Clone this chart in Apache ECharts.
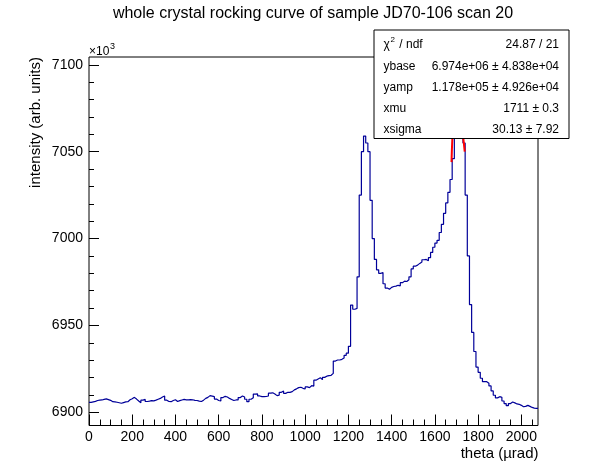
<!DOCTYPE html>
<html>
<head>
<meta charset="utf-8">
<script src="https://cdn.jsdelivr.net/npm/echarts@6/dist/echarts.min.js"></script>
<style>
html,body{margin:0;padding:0;background:#fff;}
#chart{width:598px;height:474px;}
</style>
</head>
<body>
<div id="chart"></div>
<script>
// ---- data ----
const binStart = 0;       // µrad, left edge of first bin
const binWidth = 10;      // µrad
const xMax = 2077;        // right edge of axis
const intensity = [
  6905.7, 6906.0, 6906.3, 6906.8, 6907.0, 6907.1, 6907.4, 6907.7, 6907.3, 6906.9,
  6906.1, 6906.0, 6905.8, 6905.5, 6905.2, 6905.6, 6906.0, 6906.1, 6907.2, 6907.8,
  6908.6, 6907.6, 6906.5, 6905.5, 6907.0, 6907.4, 6906.2, 6906.4, 6906.7, 6906.6,
  6907.0, 6907.5, 6908.0, 6908.8, 6909.4, 6907.0, 6906.2, 6906.1, 6906.8, 6907.2,
  6906.2, 6906.7, 6907.1, 6907.4, 6907.2, 6907.1, 6907.3, 6907.2, 6906.9, 6906.8,
  6906.4, 6906.2, 6907.0, 6908.0, 6908.6, 6909.6, 6909.3, 6909.0, 6907.6, 6906.8,
  6906.5, 6908.5, 6909.2, 6908.8, 6908.0, 6907.4, 6906.8, 6907.1, 6907.1, 6908.5,
  6909.4, 6908.8, 6907.5, 6906.1, 6907.5, 6908.4, 6910.5, 6910.6, 6909.4, 6909.0,
  6909.0, 6909.1, 6909.4, 6911.0, 6911.2, 6910.5, 6909.6, 6909.9, 6911.5, 6912.2,
  6910.9, 6911.5, 6911.5, 6911.9, 6912.9, 6913.5, 6914.2, 6914.4, 6913.8, 6913.4,
  6914.6, 6914.2, 6915.3, 6915.1, 6918.5, 6919.2, 6919.9, 6918.8, 6920.1, 6920.8,
  6921.1, 6921.3, 6922.4, 6929.5, 6930.1, 6930.1, 6930.5, 6931.2, 6932.8, 6934.0,
  6938.0, 6961.7, 6959.3, 6959.8, 6978.0, 7025.0, 7050.0, 7059.0, 7055.0, 7050.0,
  7022.0, 7000.0, 6988.0, 6982.0, 6980.0, 6980.5, 6974.0, 6971.5, 6970.8, 6971.9,
  6972.4, 6972.6, 6973.1, 6972.8, 6974.6, 6975.5, 6975.3, 6976.3, 6978.0, 6982.5,
  6984.1, 6984.7, 6985.7, 6986.5, 6987.8, 6988.0, 6987.2, 6989.0, 6992.0, 6995.0,
  6997.4, 6999.0, 7003.5, 7008.2, 7014.5, 7020.5, 7026.6, 7034.0, 7046.0, 7065.0,
  7080.0, 7090.0, 7085.0, 7055.0, 7025.0, 6990.0, 6962.0, 6946.0, 6935.0, 6926.0,
  6923.0, 6919.6, 6917.6, 6917.6, 6916.7, 6915.2, 6912.3, 6909.8, 6908.3, 6909.0,
  6908.6, 6906.5, 6905.0, 6903.8, 6905.0, 6905.9, 6905.4, 6904.8, 6904.6, 6904.0,
  6903.2, 6903.4, 6904.0, 6903.4, 6902.8, 6902.4, 6902.3, 6902.3
];
// red fit curve (mostly hidden under the stats box)
const fitTheta = [1677, 1681, 1690, 1700, 1711, 1720, 1728, 1733, 1738];
const fitValue = [7044, 7058, 7078, 7089, 7092, 7088, 7062, 7056, 7050];

const xTicks = [0, 200, 400, 600, 800, 1000, 1200, 1400, 1600, 1800, 2000];
const xMinorTicks = [50,100,150,250,300,350,450,500,550,650,700,750,850,900,950,1050,1100,1150,1250,1300,1350,1450,1500,1550,1650,1700,1750,1850,1900,1950,2050];
const yTicks = [6900, 6950, 7000, 7050, 7100];
const yMinorTicks = [6910,6920,6930,6940,6960,6970,6980,6990,7010,7020,7030,7040,7060,7070,7080,7090];
const yMin = 6892.4, yMax = 7104.5;

const titleText = 'whole crystal rocking curve of sample JD70-106 scan 20';
const xTitle = 'theta (\u00b5rad)';
const yTitle = 'intensity (arb. units)';
const statNames = ['ybase', 'yamp', 'xmu', 'xsigma'];
const statValues = ['24.87 / 21', '6.974e+06 \u00b1 4.838e+04', '1.178e+05 \u00b1 4.926e+04', '1711 \u00b1 0.3', '30.13 \u00b1 7.92'];

// ---- build ----
const FONT = "'Liberation Sans', Arial, Helvetica, sans-serif";
const histData = intensity.map((v, i) => [binStart + i * binWidth, v]);
histData.push([xMax, intensity[intensity.length - 1]]);
const fitData = fitTheta.map((t, i) => [t, fitValue[i]]);
const plain = v => String(Math.round(v));

const chart = echarts.init(document.getElementById('chart'), null, {renderer: 'canvas'});

const axisCommonX = {
  type: 'value', min: 0, max: xMax, position: 'bottom',
  axisLine: {show: false}, splitLine: {show: false}
};
const axisCommonY = {
  type: 'value', min: yMin, max: yMax, position: 'left',
  axisLine: {show: false}, splitLine: {show: false}
};

const statGraphics = [];
const rowY = [45, 66.5, 87.5, 108.5, 130];
statGraphics.push({type: 'rect', shape: {x: 374, y: 30, width: 195, height: 108.5},
  style: {fill: '#fff', stroke: '#000', lineWidth: 1}, z: 100});
statGraphics.push({type: 'text', x: 383.5, y: rowY[0], z: 101,
  style: {text: '\u03c7', font: '12px ' + FONT, fill: '#000', textVerticalAlign: 'middle'}});
statGraphics.push({type: 'text', x: 390.5, y: 39.5, z: 101,
  style: {text: '2', font: '8px ' + FONT, fill: '#000', textVerticalAlign: 'middle'}});
statGraphics.push({type: 'text', x: 396, y: rowY[0], z: 101,
  style: {text: ' / ndf', font: '12px ' + FONT, fill: '#000', textVerticalAlign: 'middle'}});
statNames.forEach((n, i) => {
  statGraphics.push({type: 'text', x: 383.5, y: rowY[i + 1], z: 101,
    style: {text: n, font: '12px ' + FONT, fill: '#000', textVerticalAlign: 'middle'}});
});
statValues.forEach((v, i) => {
  statGraphics.push({type: 'text', x: 559, y: rowY[i], z: 101,
    style: {text: v, font: '12px ' + FONT, fill: '#000', textAlign: 'right', textVerticalAlign: 'middle'}});
});

const option = {
  animation: false,
  backgroundColor: '#fff',
  textStyle: {fontFamily: FONT},
  grid: {left: 89, top: 57, right: 60, bottom: 48.5, show: true, borderColor: '#000', borderWidth: 1, backgroundColor: 'transparent', containLabel: false},
  xAxis: [
    Object.assign({}, axisCommonX, {
      axisTick: {show: true, inside: true, length: 11, customValues: xTicks, lineStyle: {color: '#000', width: 1}},
      axisLabel: {show: true, customValues: xTicks, formatter: plain, color: '#000', fontSize: 14, fontFamily: FONT, margin: 5}
    }),
    Object.assign({}, axisCommonX, {
      axisTick: {show: true, inside: true, length: 6, customValues: xMinorTicks, lineStyle: {color: '#000', width: 1}},
      axisLabel: {show: false}
    })
  ],
  yAxis: [
    Object.assign({}, axisCommonY, {
      axisTick: {show: true, inside: true, length: 10, customValues: yTicks, lineStyle: {color: '#000', width: 1}},
      axisLabel: {show: true, customValues: yTicks, formatter: plain, color: '#000', fontSize: 14, fontFamily: FONT, margin: 6}
    }),
    Object.assign({}, axisCommonY, {
      axisTick: {show: true, inside: true, length: 5, customValues: yMinorTicks, lineStyle: {color: '#000', width: 1}},
      axisLabel: {show: false}
    })
  ],
  series: [
    {
      type: 'line', xAxisIndex: 0, yAxisIndex: 0, step: 'end', data: histData,
      showSymbol: false, symbol: 'none', clip: true, z: 2,
      lineStyle: {color: '#000099', width: 1.2}
    },
    {
      type: 'line', xAxisIndex: 0, yAxisIndex: 0, data: fitData, smooth: true,
      showSymbol: false, symbol: 'none', clip: true, z: 3,
      lineStyle: {color: '#ff0000', width: 2}
    }
  ],
  graphic: [
    {type: 'text', x: 313, y: 14, z: 101,
      style: {text: titleText, font: '16px ' + FONT, fill: '#000', textAlign: 'center', textVerticalAlign: 'middle'}},
    {type: 'text', x: 538.5, y: 453.5, z: 101,
      style: {text: xTitle, font: '15px ' + FONT, fill: '#000', textAlign: 'right', textVerticalAlign: 'middle'}},
    {type: 'text', x: 36, y: 57, rotation: Math.PI / 2, z: 101,
      style: {text: yTitle, font: '15px ' + FONT, fill: '#000', textAlign: 'right', textVerticalAlign: 'middle'}},
    {type: 'text', x: 89, y: 52, z: 101,
      style: {text: '\u00d710', font: '12px ' + FONT, fill: '#000', textVerticalAlign: 'middle'}},
    {type: 'text', x: 110, y: 47, z: 101,
      style: {text: '3', font: '9px ' + FONT, fill: '#000', textVerticalAlign: 'middle'}}
  ].concat(statGraphics)
};
chart.setOption(option);
</script>
</body>
</html>
